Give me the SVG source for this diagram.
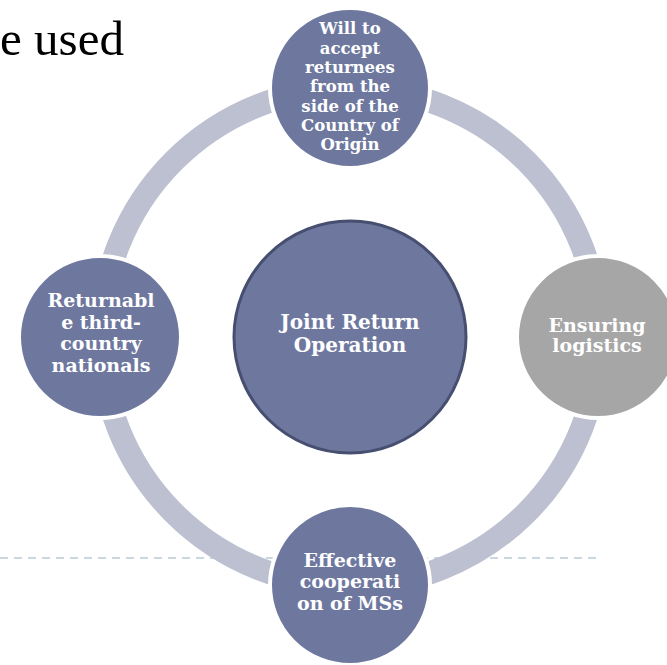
<svg xmlns="http://www.w3.org/2000/svg" width="667" height="665" viewBox="0 0 667 665">
<style>
.node{fill:#6e789f;stroke:#ffffff;stroke-width:4}
.gray{fill:#a6a6a6}
.lbl{font-family:"DejaVu Serif","Liberation Serif",serif;font-weight:bold;fill:#ffffff;text-anchor:middle}
.s16{font-size:16.5px}
.s18{font-size:19px}
.s19{font-size:20px}
</style>
<rect width="667" height="665" fill="#ffffff"/>
<text x="0" y="55" font-family="'Liberation Serif',serif" font-size="48" fill="#000000" textLength="124" lengthAdjust="spacingAndGlyphs">e used</text>
<line x1="0" y1="558" x2="598" y2="558" stroke="#b8cad8" stroke-width="1.5" stroke-dasharray="8,6"/>
<g id="connectors">
<circle cx="350" cy="337" r="249" fill="none" stroke="#bcc0d0" stroke-width="23"/>
</g>
<g id="center">
<circle cx="350" cy="337" r="116" fill="#6e789f" stroke="#474f70" stroke-width="3"/>
<text class="lbl s19"><tspan x="350" y="329">Joint Return</tspan><tspan x="350" y="352">Operation</tspan></text>
</g>
<g id="top">
<circle class="node" cx="350" cy="88" r="80"/>
<text class="lbl s16"><tspan x="350" y="34">Will to</tspan><tspan x="350" y="54">accept</tspan><tspan x="350" y="73">returnees</tspan><tspan x="350" y="92">from the</tspan><tspan x="350" y="112">side of the</tspan><tspan x="350" y="131">Country of</tspan><tspan x="350" y="150">Origin</tspan></text>
</g>
<g id="left">
<circle class="node" cx="100" cy="337" r="81"/>
<text class="lbl s18"><tspan x="101" y="307">Returnabl</tspan><tspan x="101" y="329">e third-</tspan><tspan x="101" y="350">country</tspan><tspan x="101" y="372">nationals</tspan></text>
</g>
<g id="right">
<circle class="node gray" cx="598" cy="337" r="81"/>
<text class="lbl s18"><tspan x="597" y="332">Ensuring</tspan><tspan x="597" y="352">logistics</tspan></text>
</g>
<g id="bottom">
<circle class="node" cx="350" cy="585" r="80"/>
<text class="lbl s18"><tspan x="350" y="567">Effective</tspan><tspan x="350" y="588">cooperati</tspan><tspan x="350" y="610">on of MSs</tspan></text>
</g>
</svg>
